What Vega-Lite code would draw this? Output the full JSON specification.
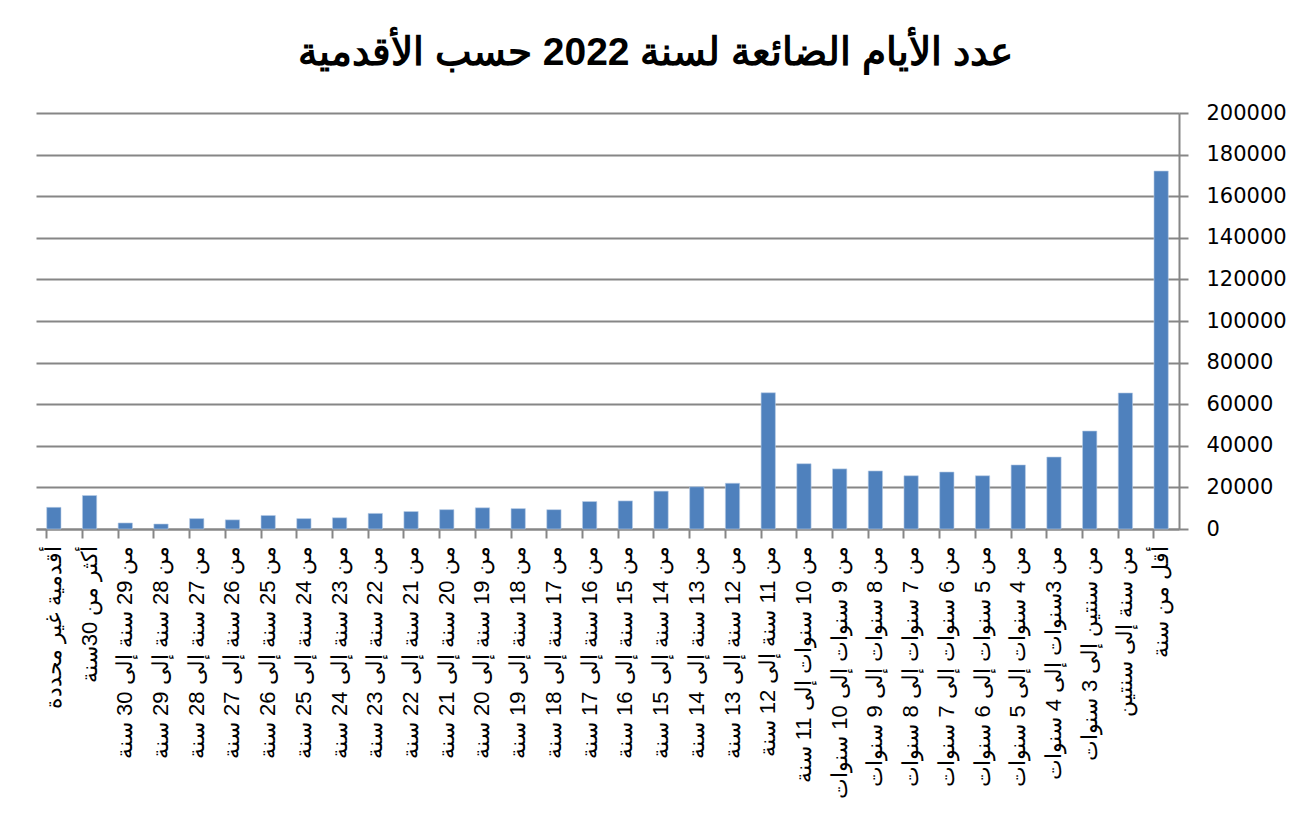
{
  "$schema": "https://vega.github.io/schema/vega-lite/v6.json",
  "width": 1143,
  "height": 416,
  "autosize": {"type": "none"},
  "padding": {"left": 36, "top": 113, "right": 131, "bottom": 285},
  "background": "white",
  "title": {
    "text": "عدد الأيام الضائعة لسنة 2022 حسب الأقدمية",
    "font": "Liberation Sans",
    "fontSize": 39,
    "fontWeight": "bold",
    "color": "#000000",
    "anchor": "middle",
    "dx": 48,
    "offset": 29
  },
  "data": {
    "values": [
      {"category": "أقدمية غير محددة", "days": 10400},
      {"category": "أكثر من 30سنة", "days": 16100},
      {"category": "من 29 سنة إلى 30 سنة", "days": 2900},
      {"category": "من 28 سنة إلى 29 سنة", "days": 2400},
      {"category": "من 27 سنة إلى 28 سنة", "days": 5000},
      {"category": "من 26 سنة إلى 27 سنة", "days": 4400},
      {"category": "من 25 سنة إلى 26 سنة", "days": 6500},
      {"category": "من 24 سنة إلى 25 سنة", "days": 5000},
      {"category": "من 23 سنة إلى 24 سنة", "days": 5400},
      {"category": "من 22 سنة إلى 23 سنة", "days": 7500},
      {"category": "من 21 سنة إلى 22 سنة", "days": 8400},
      {"category": "من 20 سنة إلى 21 سنة", "days": 9300},
      {"category": "من 19 سنة إلى 20 سنة", "days": 10200},
      {"category": "من 18 سنة إلى 19 سنة", "days": 9800},
      {"category": "من 17 سنة إلى 18 سنة", "days": 9300},
      {"category": "من 16 سنة إلى 17 سنة", "days": 13200},
      {"category": "من 15 سنة إلى 16 سنة", "days": 13500},
      {"category": "من 14 سنة إلى 15 سنة", "days": 18200},
      {"category": "من 13 سنة إلى 14 سنة", "days": 20300},
      {"category": "من 12 سنة إلى 13 سنة", "days": 22000},
      {"category": "من 11 سنة إلى 12 سنة", "days": 65500},
      {"category": "من 10 سنوات إلى 11 سنة", "days": 31400},
      {"category": "من 9 سنوات إلى 10 سنوات", "days": 28900},
      {"category": "من 8 سنوات إلى 9 سنوات", "days": 27900},
      {"category": "من 7 سنوات إلى 8 سنوات", "days": 25600},
      {"category": "من 6 سنوات إلى 7 سنوات", "days": 27400},
      {"category": "من 5 سنوات إلى 6 سنوات", "days": 25600},
      {"category": "من 4 سنوات إلى 5 سنوات", "days": 30800},
      {"category": "من 3سنوات إلى 4 سنوات", "days": 34600},
      {"category": "من سنتين إلى 3 سنوات", "days": 47100},
      {"category": "من سنة إلى سنتين", "days": 65400},
      {"category": "أقل من سنة", "days": 172100}
    ]
  },
  "encoding": {
    "y": {
      "field": "days",
      "type": "quantitative",
      "scale": {"domain": [0, 200000], "nice": false},
      "axis": {
        "title": null,
        "orient": "right",
        "values": [0, 20000, 40000, 60000, 80000, 100000, 120000, 140000, 160000, 180000, 200000],
        "format": "d",
        "labelFont": "DejaVu Sans",
        "labelFontSize": 21,
        "labelColor": "#000000",
        "labelPadding": 18,
        "tickSize": 9,
        "tickColor": "#868686",
        "tickWidth": 2,
        "domainColor": "#868686",
        "domainWidth": 2,
        "grid": true,
        "gridColor": "#868686",
        "gridWidth": 2
      }
    }
  },
  "layer": [
    {
      "mark": {"type": "bar", "color": "#4F81BD", "stroke": "#B9CDE5", "strokeWidth": 0.6},
      "encoding": {
        "x": {
          "field": "category",
          "type": "nominal",
          "sort": null,
          "scale": {"paddingInner": 0.6, "paddingOuter": 0.3},
          "axis": {
            "title": null,
            "orient": "bottom",
            "labelAngle": 270,
            "labelAlign": "right",
            "labelBaseline": "middle",
            "labelFont": "Liberation Sans",
            "labelFontSize": 22,
            "labelColor": "#000000",
            "labelLimit": 400,
            "labelPadding": 16,
            "ticks": false,
            "domain": false,
            "grid": false
          }
        }
      }
    },
    {
      "mark": {"type": "bar", "opacity": 0},
      "encoding": {
        "x": {
          "field": "category",
          "type": "nominal",
          "sort": null,
          "axis": {
            "title": null,
            "orient": "bottom",
            "labels": false,
            "bandPosition": 0,
            "ticks": true,
            "tickSize": 9,
            "tickColor": "#868686",
            "tickWidth": 2,
            "domain": true,
            "domainColor": "#868686",
            "domainWidth": 2,
            "grid": false
          }
        }
      }
    }
  ],
  "resolve": {"axis": {"x": "independent"}},
  "config": {"view": {"stroke": null}}
}
